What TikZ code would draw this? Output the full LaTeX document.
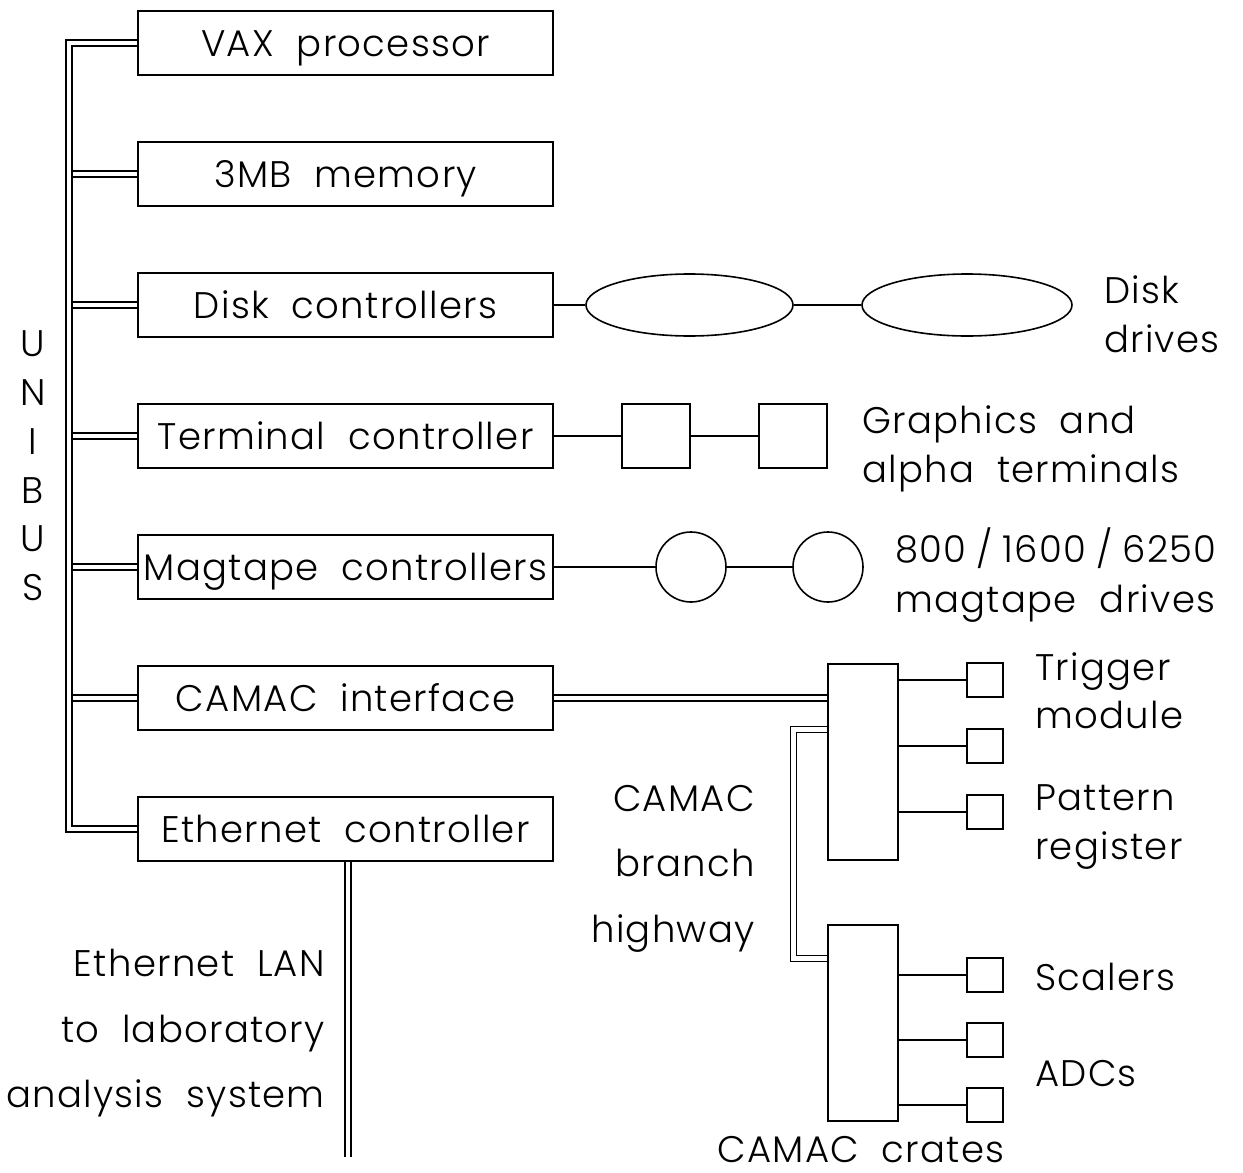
\documentclass[tikz,border=0pt]{standalone}
\usepackage{fontspec}
\IfFontExistsTF{Poppins Light}{\setmainfont{Poppins Light}[LetterSpace=3.5,WordSpace=2.0]}{\setmainfont{Poppins}[LetterSpace=3.5,WordSpace=2.0]}
\usetikzlibrary{shapes.geometric}
\newcommand\dfont{\fontsize{37}{40}\selectfont}
\begin{document}
\begin{tikzpicture}[x=1pt,y=-1pt,
  box/.style={draw,line width=1.6pt,minimum width=415pt,minimum height=64pt,inner sep=0pt,font=\dfont,text height=27pt,text depth=0pt},
  ell/.style={draw,ellipse,line width=1.6pt,minimum width=207pt,minimum height=62pt,inner sep=0pt},
  sq/.style={draw,line width=1.6pt,minimum width=68pt,minimum height=64pt,inner sep=0pt},
  circ/.style={draw,circle,line width=1.6pt,minimum size=70pt,inner sep=0pt},
  crate/.style={draw,line width=1.6pt,minimum width=70pt,minimum height=196pt,inner sep=0pt},
  mod/.style={draw,line width=1.6pt,minimum width=36pt,minimum height=34pt,inner sep=0pt},
  conn/.style={line width=1.6pt},
  dbl/.style={double,double distance=4.5pt,line width=1.5pt},
  lab/.style={inner sep=0pt,font=\dfont}
]
\useasboundingbox (0,0) rectangle (1243,1173);

% left column
\node[box] (vax) at (345.5,43) {VAX processor};
\node[box] (mem) at (345.5,174) {3MB memory};
\node[box] (disk) at (345.5,305) {Disk controllers};
\node[box] (term) at (345.5,436) {Terminal controller};
\node[box] (mag) at (345.5,567) {Magtape controllers};
\node[box] (cam) at (345.5,698) {CAMAC interface};
\node[box] (eth) at (345.5,829) {Ethernet controller};

% UNIBUS
\coordinate (bt) at (69,43);
\coordinate (bb) at (69,829);
\draw[dbl] (vax.west) -- (bt) -- (bb) -- (eth.west);
\coordinate (b2) at (72.75,174);
\coordinate (b3) at (72.75,305);
\coordinate (b4) at (72.75,436);
\coordinate (b5) at (72.75,567);
\coordinate (b6) at (72.75,698);
\draw[dbl] (b2) -- (mem.west);
\draw[dbl] (b3) -- (disk.west);
\draw[dbl] (b4) -- (term.west);
\draw[dbl] (b5) -- (mag.west);
\draw[dbl] (b6) -- (cam.west);

\node[lab,anchor=base] (u1) at (33,356) {U};
\node[lab,anchor=base] (u2) at (33,405) {N};
\node[lab,anchor=base] (u3) at (33,454) {I};
\node[lab,anchor=base] (u4) at (33,503) {B};
\node[lab,anchor=base] (u5) at (33,551) {U};
\node[lab,anchor=base] (u6) at (33,600) {S};

% disks
\node[ell] (d1) at (689.5,305) {};
\node[ell,minimum width=210pt] (d2) at (967,305) {};
\draw[conn] (disk.east) -- (d1.west);
\draw[conn] (d1.east) -- (d2.west);
\node[lab,anchor=base west] (tdisk) at (1104,303) {Disk};
\node[lab,anchor=base west] (tdrives) at (1104,352) {drives};

% terminals
\node[sq] (t1) at (656,436) {};
\node[sq] (t2) at (793,436) {};
\draw[conn] (term.east) -- (t1.west);
\draw[conn] (t1.east) -- (t2.west);
\node[lab,anchor=base west] (tgr) at (862,433) {Graphics and};
\node[lab,anchor=base west] (tal) at (862,482) {alpha terminals};

% magtapes
\node[circ] (m1) at (691,567) {};
\node[circ] (m2) at (828,567) {};
\draw[conn] (mag.east) -- (m1.west);
\draw[conn] (m1.east) -- (m2.west);
\node[lab,anchor=base west] (tm1) at (895,562) {800\kern10pt/\kern10pt1600\kern10pt/\kern10pt6250};
\node[lab,anchor=base west] (tm2) at (895,612) {magtape drives};

% CAMAC
\node[crate] (c1) at (863,762) {};
\node[crate] (c2) at (863,1023) {};
\draw[dbl] (cam.east) -- (cam.east -| c1.west);
\coordinate (h1) at (793.5,729.5);
\coordinate (h2) at (793.5,958.5);
\draw[dbl] (c1.west |- h1) -- (h1) -- (h2) -- (c2.west |- h2);

\node[mod] (s1) at (985,680) {};
\node[mod] (s2) at (985,746) {};
\node[mod] (s3) at (985,812) {};
\node[mod] (s4) at (985,975) {};
\node[mod] (s5) at (985,1040) {};
\node[mod] (s6) at (985,1105) {};
\foreach \s in {s1,s2,s3} \draw[conn] (c1.east |- \s) -- (\s.west);
\foreach \s in {s4,s5,s6} \draw[conn] (c2.east |- \s) -- (\s.west);

\node[lab,anchor=base west] (ttr) at (1035,680) {Trigger};
\node[lab,anchor=base west] (tmo) at (1035,728) {module};
\node[lab,anchor=base west] (tpa) at (1035,810) {Pattern};
\node[lab,anchor=base west] (tre) at (1035,859) {register};
\node[lab,anchor=base west] (tsc) at (1035,990) {Scalers};
\node[lab,anchor=base west] (tad) at (1035,1086) {ADCs};
\node[lab,anchor=base,text depth=0pt] (tcr) at (861,1162) {CAMAC crates};

\node[lab,anchor=base east] (tca) at (755,811) {CAMAC};
\node[lab,anchor=base east] (tbr) at (755,876) {branch};
\node[lab,anchor=base east] (thi) at (755,942) {highway};

% Ethernet LAN
\coordinate (lan) at (348,1157);
\draw[dbl] (eth.south -| lan) -- (lan);
\node[lab,anchor=base east] (te1) at (325,976) {Ethernet LAN};
\node[lab,anchor=base east] (te2) at (325,1042) {to laboratory};
\node[lab,anchor=base east] (te3) at (325,1107) {analysis system};
\end{tikzpicture}
\end{document}
